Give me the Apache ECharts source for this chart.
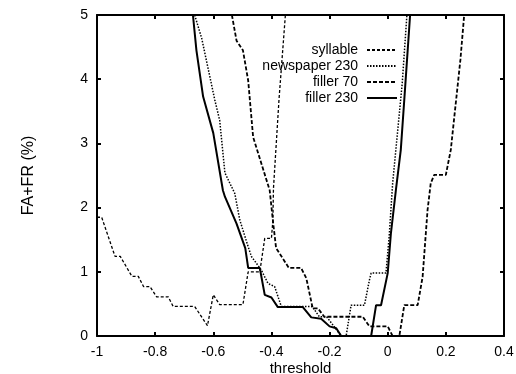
<!DOCTYPE html>
<html>
<head>
<meta charset="utf-8">
<script src="https://cdn.jsdelivr.net/npm/echarts@6/dist/echarts.min.js"></script>
<style>
  html, body { margin: 0; padding: 0; background: #fff; }
  #chart { width: 516px; height: 374px; }
</style>
</head>
<body>
<div id="chart"></div>
<script>
  // values, [threshold, FA+FR %]
  const syllable = [
    [-1, 1.85], [-0.984, 1.85], [-0.938, 1.24], [-0.92, 1.24], [-0.88, 0.93], [-0.858, 0.93],
    [-0.84, 0.77], [-0.818, 0.77], [-0.795, 0.61], [-0.755, 0.61], [-0.738, 0.46], [-0.664, 0.46],
    [-0.62, 0.16], [-0.6, 0.64], [-0.578, 0.49], [-0.498, 0.49], [-0.48, 1.0], [-0.44, 1.0],
    [-0.423, 1.52], [-0.4, 1.52], [-0.395, 1.8], [-0.393, 2.3], [-0.374, 3.68], [-0.352, 5]
  ];
  const newspaper230 = [
    [-0.664, 5], [-0.64, 4.64], [-0.595, 3.68], [-0.578, 3.36], [-0.56, 2.54], [-0.526, 2.22],
    [-0.509, 1.81], [-0.48, 1.39], [-0.469, 1.24], [-0.435, 1.03], [-0.412, 0.82], [-0.389, 0.77],
    [-0.366, 0.46], [-0.26, 0.46], [-0.235, 0.3], [-0.21, 0.3], [-0.18, 0.12], [-0.16, 0],
    [-0.143, 0], [-0.126, 0.48], [-0.08, 0.48], [-0.063, 0.87], [-0.057, 0.98], [-0.006, 0.98],
    [0.005, 1.55], [0.017, 2.38], [0.028, 2.9], [0.05, 3.94], [0.066, 5]
  ];
  const filler70 = [
    [-0.536, 5], [-0.52, 4.6], [-0.498, 4.45], [-0.48, 3.98], [-0.463, 3.1], [-0.406, 2.27],
    [-0.395, 1.8], [-0.384, 1.37], [-0.34, 1.06], [-0.298, 1.06], [-0.28, 0.9], [-0.258, 0.43],
    [-0.24, 0.43], [-0.218, 0.3], [-0.086, 0.3], [-0.063, 0.15], [0, 0.15], [0.017, 0],
    [0.04, 0], [0.057, 0.48], [0.103, 0.48], [0.12, 0.92], [0.137, 1.96], [0.148, 2.38],
    [0.16, 2.51], [0.2, 2.51], [0.217, 2.9], [0.25, 4.3], [0.263, 5]
  ];
  const filler230 = [
    [-0.67, 5], [-0.658, 4.45], [-0.635, 3.73], [-0.6, 3.16], [-0.567, 2.27], [-0.56, 2.17],
    [-0.52, 1.75], [-0.49, 1.37], [-0.48, 1.06], [-0.44, 1.06], [-0.423, 0.64], [-0.4, 0.6],
    [-0.378, 0.45], [-0.292, 0.45], [-0.263, 0.29], [-0.229, 0.27], [-0.2, 0.15], [-0.177, 0.12],
    [-0.16, 0], [-0.057, 0], [-0.04, 0.48], [-0.023, 0.48], [0, 0.98], [0.011, 1.6],
    [0.028, 2.27], [0.045, 2.9], [0.057, 3.68], [0.077, 5]
  ];
  const seriesNames = ["syllable", "newspaper 230", "filler 70", "filler 230"];

  const font = "'Liberation Sans', Arial, sans-serif";
  const black = "#000";

  function frameAxis(position, showLabels) {
    return {
      position: position,
      axisLine: { show: true, onZero: false, lineStyle: { color: black, width: 2 } },
      axisTick: { show: true, inside: true, length: 4, lineStyle: { color: black, width: 2 } },
      axisLabel: { show: showLabels, color: black, fontSize: 14, fontFamily: font, margin: 9 },
      splitLine: { show: false }
    };
  }

  const xBottom = Object.assign(frameAxis("bottom", true), {
    type: "value", min: -1, max: 0.4, interval: 0.2,
    name: "threshold", nameLocation: "middle", nameGap: 25, nameMoveOverlap: false,
    nameTextStyle: { color: black, fontSize: 15, fontFamily: font }
  });
  const xTop = Object.assign(frameAxis("top", false), { type: "value", min: -1, max: 0.4, interval: 0.2 });
  const yLeft = Object.assign(frameAxis("left", true), {
    type: "value", min: 0, max: 5, interval: 1,
    name: "FA+FR (%)", nameLocation: "middle", nameGap: 60, nameMoveOverlap: false,
    nameTextStyle: { color: black, fontSize: 16, fontFamily: font }
  });
  const yRight = Object.assign(frameAxis("right", false), { type: "value", min: 0, max: 5, interval: 1 });

  function lineSeries(name, data, type, width) {
    return {
      name: name,
      type: "line",
      data: data,
      symbol: "none",
      xAxisIndex: 0,
      yAxisIndex: 0,
      lineStyle: { color: black, width: width, type: type },
      itemStyle: { color: black }
    };
  }

  const chart = echarts.init(document.getElementById("chart"));
  chart.setOption({
    animation: false,
    backgroundColor: "#fff",
    grid: { left: 97, right: 12, top: 15, bottom: 38, outerBoundsMode: "none" },
    legend: {
      orient: "vertical",
      align: "right",
      right: 118,
      top: 43,
      padding: 0,
      itemWidth: 30,
      itemHeight: 14,
      itemGap: 2,
      itemStyle: { opacity: 0 },
      formatter: "{name} ",
      textStyle: { color: black, fontSize: 14, fontFamily: font },
      data: seriesNames
    },
    xAxis: [xBottom, xTop],
    yAxis: [yLeft, yRight],
    series: [
      lineSeries(seriesNames[0], syllable, [3, 2], 1.3),
      lineSeries(seriesNames[1], newspaper230, [1.5, 1.5], 1.5),
      lineSeries(seriesNames[2], filler70, [4, 2], 1.8),
      lineSeries(seriesNames[3], filler230, "solid", 2)
    ]
  });
</script>
</body>
</html>
